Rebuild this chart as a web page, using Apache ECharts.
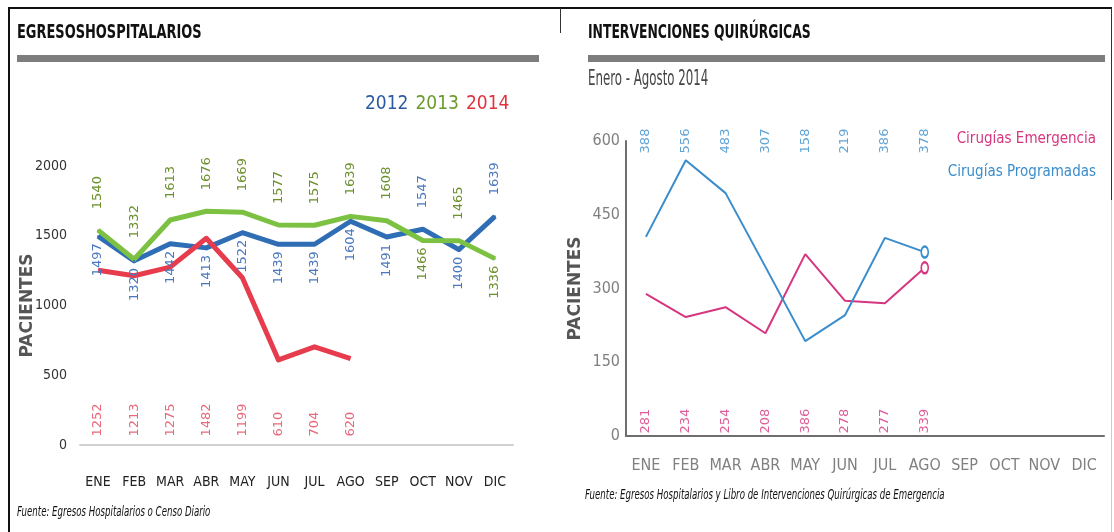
<!DOCTYPE html>
<html>
<head>
<meta charset="utf-8">
<script src="https://cdn.jsdelivr.net/npm/echarts@6/dist/echarts.min.js"></script>
<style>
  html, body { margin: 0; padding: 0; background: #fff; }
  #chart { width: 1114px; height: 532px; }
</style>
</head>
<body>
<div id="chart"></div>
<script>
var months = ['ENE', 'FEB', 'MAR', 'ABR', 'MAY', 'JUN', 'JUL', 'AGO', 'SEP', 'OCT', 'NOV', 'DIC'];

// egresos hospitalarios (left)
var years = ['2012', '2013', '2014'];
var egresos2012 = [1497, 1320, 1442, 1413, 1522, 1439, 1439, 1604, 1491, 1547, 1400, 1639];
var egresos2013 = [1540, 1332, 1613, 1676, 1669, 1577, 1575, 1639, 1608, 1466, 1465, 1336];
var egresos2014 = [1252, 1213, 1275, 1482, 1199, 610, 704, 620];
var egresosTicks = [0, 500, 1000, 1500, 2000];

// intervenciones quirurgicas (right): lines as drawn, and printed labels
var cirugias = ['Cirugías Emergencia', 'Cirugías Programadas'];
var emergencia = [289, 242, 262, 209, 370, 275, 270, 342];
var emergenciaLabels = [281, 234, 254, 208, 386, 278, 277, 339];
var programadas = [405, 561, 494, 344, 193, 246, 403, 374];
var programadasLabels = [388, 556, 483, 307, 158, 219, 386, 378];
var cirugiasTicks = [0, 150, 300, 450, 600];

var COND = "'DejaVu Sans Condensed', 'DejaVu Sans', sans-serif";
var WIDE = "'DejaVu Sans', Verdana, sans-serif";

var colors = {
  y2012: '#2f6db5', y2013: '#7cc142', y2014: '#e63c4e',
  l2012: '#4a78c0', l2013: '#6b902b', l2014: '#e2435a',
  emer: '#d6367f', prog: '#3a8dcc'
};

function rotLabel(color, pos, size) {
  return {
    show: true,
    position: pos,
    rotate: 90,
    align: pos === 'bottom' ? 'right' : 'left',
    verticalAlign: 'middle',
    distance: pos === 'bottom' ? 6 : 20,
    color: color,
    fontFamily: WIDE,
    fontSize: size || 13
  };
}

// a few labels sit on the other side of the line
function withFlips(values, flips, color, pos) {
  return values.map(function (v, i) {
    if (flips.indexOf(i) < 0) return v;
    return { value: v, label: rotLabel(color, pos) };
  });
}

function endMarker(values) {
  return values.map(function (v, i) {
    if (i < values.length - 1) return v;
    return { value: v, symbol: 'emptyCircle', symbolSize: [7, 11] };
  });
}

function plain(v) { return String(v); }

var chart = echarts.init(document.getElementById('chart'), null, { renderer: 'canvas' });

chart.setOption({
  animation: false,
  backgroundColor: '#fff',
  legend: [{
    left: 355, top: 90,
    icon: 'none', itemWidth: 0, itemGap: 2,
    selectedMode: false,
    data: [
      { name: years[0], textStyle: { color: '#2b5aa3' } },
      { name: years[1], textStyle: { color: '#6b9a2c' } },
      { name: years[2], textStyle: { color: '#e2323f' } }
    ],
    textStyle: { fontFamily: COND, fontSize: 19 }
  }, {
    right: 8, top: 127, orient: 'vertical', align: 'right',
    icon: 'none', itemWidth: 0, itemGap: 18,
    selectedMode: false,
    data: [
      { name: cirugias[0], textStyle: { color: colors.emer } },
      { name: cirugias[1], textStyle: { color: colors.prog } }
    ],
    textStyle: { fontFamily: COND, fontSize: 15 }
  }],
  grid: [
    { left: 80, top: 166, width: 433, height: 279 },
    { left: 626, top: 141, width: 478, height: 295 }
  ],
  xAxis: [{
    gridIndex: 0, type: 'category', data: months, boundaryGap: true,
    axisLine: { lineStyle: { color: '#d0d0d0', width: 2 } },
    axisTick: { show: false },
    axisLabel: { interval: 0, margin: 30, color: '#222', fontFamily: COND, fontSize: 14 }
  }, {
    gridIndex: 1, type: 'category', data: months, boundaryGap: true,
    axisLine: { lineStyle: { color: '#6e6e6e', width: 2 } },
    axisTick: { show: false },
    axisLabel: { interval: 0, margin: 22, color: '#808080', fontFamily: COND, fontSize: 16 }
  }],
  yAxis: [{
    gridIndex: 0, type: 'value',
    min: egresosTicks[0], max: egresosTicks[egresosTicks.length - 1],
    interval: egresosTicks[1] - egresosTicks[0],
    name: 'PACIENTES', nameLocation: 'middle', nameGap: 44, nameMoveOverlap: false,
    nameTextStyle: { color: '#555', fontFamily: WIDE, fontWeight: 'bold', fontSize: 17 },
    axisLine: { show: false }, axisTick: { show: false }, splitLine: { show: false },
    axisLabel: { margin: 13, color: '#333', fontFamily: COND, fontSize: 14, formatter: plain }
  }, {
    gridIndex: 1, type: 'value',
    min: cirugiasTicks[0], max: cirugiasTicks[cirugiasTicks.length - 1],
    interval: cirugiasTicks[1] - cirugiasTicks[0],
    name: 'PACIENTES', nameLocation: 'middle', nameGap: 42,
    nameTextStyle: { color: '#555', fontFamily: WIDE, fontWeight: 'bold', fontSize: 17 },
    axisLine: { show: true, lineStyle: { color: '#6e6e6e', width: 2 } },
    axisTick: { show: false }, splitLine: { show: false },
    axisLabel: { margin: 6, color: '#808080', fontFamily: COND, fontSize: 16, formatter: plain }
  }],
  series: [{
    name: years[0], type: 'line', xAxisIndex: 0, yAxisIndex: 0,
    data: withFlips(egresos2012, [9, 11], colors.l2012, 'top'),
    symbol: 'circle', symbolSize: 2, showSymbol: true,
    lineStyle: { color: colors.y2012, width: 5, join: 'round' },
    itemStyle: { color: colors.y2012 },
    label: rotLabel(colors.l2012, 'bottom')
  }, {
    name: years[1], type: 'line', xAxisIndex: 0, yAxisIndex: 0,
    data: withFlips(egresos2013, [9, 11], colors.l2013, 'bottom'),
    symbol: 'circle', symbolSize: 2, showSymbol: true,
    lineStyle: { color: colors.y2013, width: 5, join: 'round' },
    itemStyle: { color: colors.y2013 },
    label: rotLabel(colors.l2013, 'top')
  }, {
    name: years[2], type: 'line', xAxisIndex: 0, yAxisIndex: 0,
    data: egresos2014,
    symbol: 'none', lineStyle: { color: colors.y2014, width: 5, join: 'round' },
    itemStyle: { color: colors.y2014 }
  }, {
    // 2014 values printed along the bottom of the plot
    type: 'scatter', xAxisIndex: 0, yAxisIndex: 0, silent: true,
    data: egresos2014.map(function (v, i) { return [i, egresosTicks[0], v]; }),
    symbolSize: 1, itemStyle: { color: 'rgba(0,0,0,0)' },
    label: Object.assign(rotLabel(colors.l2014, 'top'), {
      distance: 8,
      formatter: function (p) { return p.value[2]; }
    })
  }, {
    name: cirugias[0], type: 'line', xAxisIndex: 1, yAxisIndex: 1,
    data: endMarker(emergencia),
    symbol: 'none', showSymbol: true,
    lineStyle: { color: colors.emer, width: 2 },
    itemStyle: { color: colors.emer, borderWidth: 2 }
  }, {
    name: cirugias[1], type: 'line', xAxisIndex: 1, yAxisIndex: 1,
    data: endMarker(programadas),
    symbol: 'none', showSymbol: true,
    lineStyle: { color: colors.prog, width: 2 },
    itemStyle: { color: colors.prog, borderWidth: 2 }
  }, {
    type: 'scatter', xAxisIndex: 1, yAxisIndex: 1, silent: true,
    data: programadasLabels.map(function (v, i) { return [i, cirugiasTicks[cirugiasTicks.length - 1], v]; }),
    symbolSize: 1, itemStyle: { color: 'rgba(0,0,0,0)' },
    label: {
      show: true, position: 'inside', rotate: 90, align: 'center', verticalAlign: 'middle',
      color: colors.prog, fontFamily: WIDE, fontSize: 13,
      formatter: function (p) { return p.value[2]; }
    }
  }, {
    type: 'scatter', xAxisIndex: 1, yAxisIndex: 1, silent: true,
    data: emergenciaLabels.map(function (v, i) { return [i, cirugiasTicks[0], v]; }),
    symbolSize: 1, itemStyle: { color: 'rgba(0,0,0,0)' },
    label: Object.assign(rotLabel(colors.emer, 'top'), {
      distance: 2,
      formatter: function (p) { return p.value[2]; }
    })
  }],
  graphic: [
    // frame
    { type: 'line', shape: { x1: 8, y1: 8, x2: 1112, y2: 8 }, style: { stroke: '#111', lineWidth: 2 } },
    { type: 'line', shape: { x1: 9, y1: 8, x2: 9, y2: 532 }, style: { stroke: '#111', lineWidth: 2 } },
    { type: 'line', shape: { x1: 560.5, y1: 8, x2: 560.5, y2: 33 }, style: { stroke: '#333', lineWidth: 1 } },
    { type: 'line', shape: { x1: 1111.5, y1: 8, x2: 1111.5, y2: 200 }, style: { stroke: '#333', lineWidth: 1 } },
    { type: 'line', shape: { x1: 1111.5, y1: 200, x2: 1111.5, y2: 532 }, style: { stroke: '#ccc', lineWidth: 1 } },
    // title bars
    { type: 'rect', shape: { x: 17, y: 55, width: 522, height: 7 }, style: { fill: '#7d7d7d' } },
    { type: 'rect', shape: { x: 588, y: 55, width: 517, height: 7 }, style: { fill: '#7d7d7d' } },
    // titles
    { type: 'text', x: 17, y: 33, scaleX: 0.9, scaleY: 1.25,
      style: { text: 'EGRESOSHOSPITALARIOS', fill: '#111', font: 'bold 16px ' + COND, verticalAlign: 'middle' } },
    { type: 'text', x: 588, y: 33, scaleX: 0.86, scaleY: 1.25,
      style: { text: 'INTERVENCIONES QUIRÚRGICAS', fill: '#111', font: 'bold 16px ' + COND, verticalAlign: 'middle' } },
    { type: 'text', x: 588, y: 80, scaleX: 0.82, scaleY: 1.3,
      style: { text: 'Enero - Agosto 2014', fill: '#444', font: '16px ' + COND, verticalAlign: 'middle' } },
    // sources
    { type: 'text', x: 17, y: 512, scaleX: 0.87, scaleY: 1.25,
      style: { text: 'Fuente: Egresos Hospitalarios o Censo Diario', fill: '#111', font: 'italic 11px ' + COND, verticalAlign: 'middle' } },
    { type: 'text', x: 585, y: 495, scaleX: 0.87, scaleY: 1.25,
      style: { text: 'Fuente: Egresos Hospitalarios y Libro de Intervenciones Quirúrgicas de Emergencia', fill: '#111', font: 'italic 11px ' + COND, verticalAlign: 'middle' } }
  ]
});
</script>
</body>
</html>
